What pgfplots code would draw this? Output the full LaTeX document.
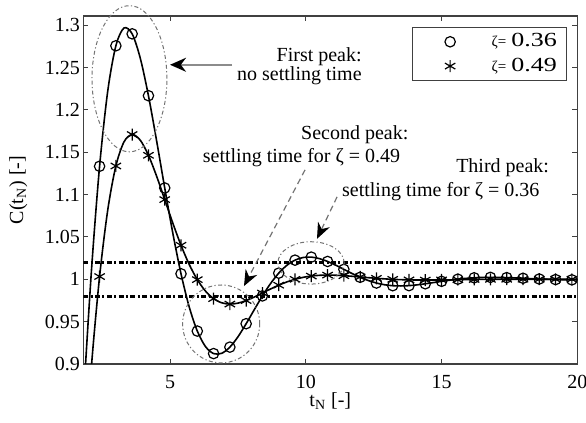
\documentclass[border=0pt]{standalone}
\usepackage{fontspec}
\setmainfont{Liberation Serif}
\usepackage{graphicx}
\usepackage{pgfplots}
\pgfplotsset{compat=1.18}
\usepackage{pgfplotstable}
\usetikzlibrary{arrows.meta}

\pgfplotstableread{
t c36 c49
1.8 0.85599 0.76662
2.1 1.01013 0.89768
2.4 1.13352 1.00328
2.7 1.22220 1.08173
3.0 1.27581 1.13386
3.3 1.29684 1.16236
3.6 1.28994 1.17103
3.9 1.26109 1.16426
4.2 1.21687 1.14650
4.5 1.16381 1.12192
4.8 1.10790 1.09417
5.1 1.05419 1.06620
5.4 1.00655 1.04023
5.7 0.96764 1.01776
6.0 0.93889 0.99964
6.3 0.92064 0.98617
6.6 0.91230 0.97719
6.9 0.91263 0.97227
7.2 0.91992 0.97075
7.5 0.93222 0.97188
7.8 0.94758 0.97490
8.1 0.96417 0.97909
8.4 0.98041 0.98383
8.7 0.99507 0.98862
9.0 1.00728 0.99306
9.3 1.01653 0.99692
9.6 1.02266 1.00003
9.9 1.02578 1.00234
10.2 1.02622 1.00389
10.5 1.02446 1.00474
10.8 1.02109 1.00500
11.1 1.01667 1.00481
11.4 1.01178 1.00430
11.7 1.00688 1.00359
12.0 1.00239 1.00278
12.3 0.99858 1.00196
12.6 0.99562 1.00120
12.9 0.99359 1.00054
13.2 0.99247 1.00000
13.5 0.99217 0.99960
13.8 0.99254 0.99934
14.1 0.99347 0.99919
14.4 0.99473 0.99914
14.7 0.99616 0.99918
15.0 0.99763 0.99926
15.3 0.99900 0.99939
15.6 1.00019 0.99953
15.9 1.00113 0.99967
16.2 1.00180 0.99980
16.5 1.00219 0.99991
16.8 1.00233 1.00000
17.1 1.00226 1.00007
17.4 1.00201 1.00011
17.7 1.00166 1.00014
18.0 1.00124 1.00015
18.3 1.00080 1.00014
18.6 1.00038 1.00013
18.9 1.00002 1.00011
19.2 0.99972 1.00008
19.5 0.99950 1.00006
19.8 0.99937 1.00004
20.1 0.99931 1.00002
}\datatab

\newcommand{\legz}[1]{{\fontsize{7.5}{8}\selectfont ζ=}\hspace{2.5pt}\scalebox{1.3}[1]{#1}\hspace*{5pt}}

\begin{document}
\begin{tikzpicture}
\begin{axis}[
  at={(0,0)}, anchor=south west,
  scale only axis, width=247pt, height=174pt,
  xmin=1.8, xmax=20, ymin=0.9, ymax=1.311,
  xtick={5,10,15,20},
  ytick={0.9,0.95,1,1.05,1.1,1.15,1.2,1.25,1.3},
  yticklabels={0.9,0.95,1,1.05,1.1,1.15,1.2,1.25,1.3},
  tick align=inside,
  major tick length=2.5pt,
  axis line style={black!75, line width=0.6pt},
  tick style={black!75, line width=0.5pt},
  /pgf/number format/assume math mode=true,
  xticklabel style={anchor=base, yshift=-12.5pt},
  yticklabel style={inner xsep=1.5pt},
  xlabel={t\textsubscript{N} [-]},
  ylabel={C(t\textsubscript{N}) [-]},
  xlabel style={at={(axis description cs:0.5,0)}, anchor=base, yshift=-21.5pt},
  ylabel style={at={([xshift=-32.5pt]axis description cs:0,0.5)}, anchor=center},
  clip mode=individual,
  legend style={at={(rel axis cs:0.98,0.968)}, anchor=north east,
    draw=black!75, line width=0.5pt, inner xsep=0pt, inner ysep=3pt,
    nodes={inner sep=0pt}, cells={anchor=west}, row sep=4pt, column sep=0pt},
  legend image code/.code={\path (0pt,0pt) (39pt,0pt);
    \draw[#1, mark repeat=1, mark phase=1] plot coordinates {(18.5pt,0pt)};},
]
\addplot[black, line width=1.3pt, dash pattern=on 2.5pt off 1.2pt on 1pt off 1.2pt, forget plot] coordinates {(1.8,1.02) (20,1.02)};
\addplot[black, line width=1.3pt, dash pattern=on 2.5pt off 1.2pt on 1pt off 1.2pt, forget plot] coordinates {(1.8,0.98) (20,0.98)};
\addplot[black, line width=0.8pt, smooth, forget plot] table[x=t,y=c36] {\datatab};
\addplot[black, line width=0.8pt, smooth, forget plot] table[x=t,y=c49] {\datatab};
\addplot[black, only marks, mark=o, mark size=2.6pt, mark repeat=2, mark phase=2, line width=0.6pt] table[x=t,y=c36] {\datatab};
\addlegendentry{\legz{0.36}}
\addplot[black, only marks, mark=asterisk, mark size=3pt, mark repeat=2, mark phase=1, line width=0.6pt] table[x=t,y=c49] {\datatab};
\addlegendentry{\legz{0.49}}

\draw[black!55, line width=0.5pt, dash pattern=on 2pt off 1.2pt on 0.6pt off 1.2pt] (axis cs:3.50,1.2369) ellipse [x radius=1.38, y radius=0.0863];
\draw[black!55, line width=0.5pt, dash pattern=on 2pt off 1.2pt on 0.6pt off 1.2pt] (axis cs:6.88,0.9473) ellipse [x radius=1.42, y radius=0.046];
\draw[black!55, line width=0.5pt, dash pattern=on 2pt off 1.2pt on 0.6pt off 1.2pt] (axis cs:10.19,1.0194) ellipse [x radius=1.22, y radius=0.025];

\draw[black!45, line width=1pt, -{Stealth[length=8pt,width=7pt,color=black]}] (axis cs:7.28,1.2534) -- (axis cs:4.996,1.2534);
\draw[black!55, line width=0.6pt, densely dashed, -{Stealth[length=8pt,width=6.5pt,color=black]}] (axis cs:9.97,1.1293) -- (axis cs:7.72,0.992);
\draw[black!55, line width=0.6pt, densely dashed, -{Stealth[length=8pt,width=6.5pt,color=black]}] (axis cs:11.15,1.0974) -- (axis cs:10.41,1.0478);

\node[anchor=east, inner sep=0pt] at (axis cs:12.07,1.2629) {First peak:};
\node[anchor=east, inner sep=0pt] at (axis cs:12.07,1.2404) {no settling time};
\node[inner sep=0pt] at (axis cs:11.80,1.1707) {Second peak:};
\node[inner sep=0pt] at (axis cs:9.84,1.1435) {settling time for ζ = 0.49};
\node[inner sep=0pt] at (axis cs:17.25,1.1317) {Third peak:};
\node[inner sep=0pt] at (axis cs:14.97,1.1033) {settling time for ζ = 0.36};
\end{axis}
\pgfresetboundingbox
\useasboundingbox (-41.65pt,-29.5pt) rectangle (251.35pt,182pt);
\end{tikzpicture}
\end{document}
